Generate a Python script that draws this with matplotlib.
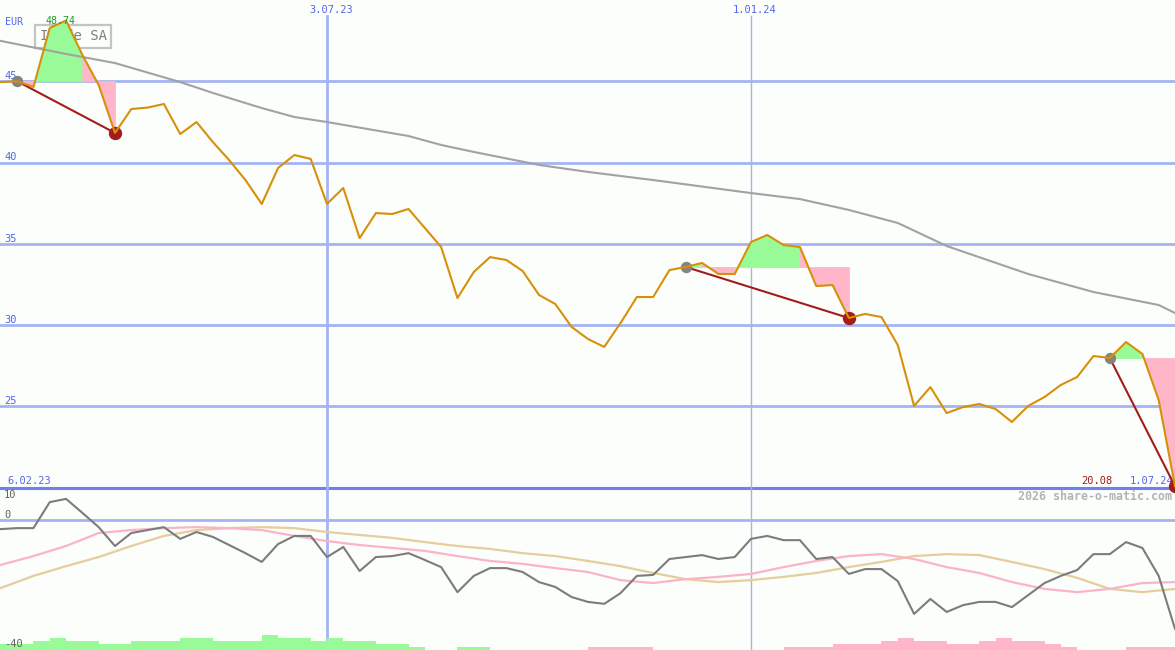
import matplotlib
matplotlib.use('Agg')
import matplotlib.pyplot as plt
import matplotlib.dates as mdates
import pandas as pd

plt.rcParams['font.family'] = ['DejaVu Sans Mono']

# -------------------------------------------------------------------------------
# weekly data, Mondays from 6.02.23 to 1.07.24

dates = pd.date_range('2023-02-06', periods=74, freq='7D')

price = [44.95, 44.95, 45.00, 44.65, 48.28, 48.74, 46.62, 44.77, 41.82, 43.29,
         43.38, 43.60, 41.75, 42.49, 41.26, 40.15, 38.92, 37.45, 39.66, 40.46,
         40.22, 37.45, 38.43, 35.35, 36.89, 36.83, 37.14, 35.97, 34.80, 31.66,
         33.26, 34.18, 34.00, 33.32, 31.85, 31.29, 29.88, 29.14, 28.65, 30.12,
         31.72, 31.72, 33.38, 33.57, 33.82, 33.14, 33.14, 35.11, 35.54, 34.92,
         34.80, 32.40, 32.46, 30.43, 30.68, 30.49, 28.77, 25.02, 26.18, 24.58,
         24.95, 25.14, 24.83, 24.03, 25.02, 25.57, 26.31, 26.80, 28.09, 27.97,
         28.95, 28.22, 25.38, 20.08]

# long moving average (read at some weeks only)
ma_weeks = [0, 1, 5, 8, 12, 14, 17, 19, 21, 26, 28, 30, 34, 37, 41, 47, 50, 53,
            56, 59, 64, 68, 72, 73]
ma_vals = [47.72, 47.48, 46.68, 46.12, 44.95, 44.28, 43.35, 42.80, 42.49, 41.63,
           41.08, 40.65, 39.85, 39.42, 38.92, 38.12, 37.75, 37.08, 36.28, 34.86,
           33.14, 32.03, 31.23, 30.74]

# signals: buy (grey) / sell (red) week index
entries = [2, 43, 69]
exits = [8, 53, 73]

# lower panel oscillator
osc = [-2.8, -2.8, -2.5, -2.5, 5.5, 6.5, 2.2, -2.2, -8.0, -4.0,
       -3.1, -2.2, -5.8, -3.7, -5.2, -7.7, -10.2, -12.9, -7.4, -4.9,
       -4.9, -11.4, -8.3, -15.7, -11.4, -11.1, -10.2, -12.3, -14.5, -22.2,
       -17.2, -14.8, -14.8, -16.0, -19.1, -20.6, -23.7, -25.2, -25.8, -22.5,
       -17.2, -16.9, -12.0, -11.4, -10.8, -12.0, -11.4, -5.8, -4.9, -6.2,
       -6.2, -12.0, -11.4, -16.6, -15.1, -15.1, -18.8, -28.9, -24.3, -28.3,
       -26.2, -25.2, -25.2, -26.8, -23.1, -19.4, -17.2, -15.4, -10.5, -10.5,
       -6.8, -8.6, -17.2, -33.5]

smooth_weeks = [0] + list(range(1, 74, 2))
osc_fast = [-15.1, -13.8, -11.1, -8.0, -4.0, -3.1, -2.5, -2.2, -2.5, -3.1,
            -4.9, -6.5, -7.7, -8.6, -9.5, -11.1, -12.6, -13.5, -14.8, -16.0,
            -18.5, -19.4, -18.2, -17.5, -16.6, -14.5, -12.6, -11.1, -10.5, -12.0,
            -14.5, -16.3, -19.1, -21.2, -22.2, -21.2, -19.4, -19.1]
osc_slow = [-22.8, -20.9, -17.2, -14.2, -11.4, -8.0, -4.9, -3.1, -2.5, -2.2,
            -2.5, -3.7, -4.6, -5.5, -6.8, -8.0, -8.9, -10.2, -11.1, -12.6,
            -14.2, -16.3, -18.2, -19.1, -18.5, -17.5, -16.3, -14.5, -12.9, -11.1,
            -10.5, -10.8, -12.9, -15.1, -17.8, -21.2, -22.2, -21.2]

# weekly histogram level (week k -> k+1), + green / - pink
hist = [2, 2, 2, 3, 4, 3, 3, 2, 2, 3, 3, 3, 4, 4, 3, 3, 3, 5, 4, 4,
        3, 4, 3, 3, 2, 2, 1, 0, 0, 1, 1, 0, 0, 0, 0, 0, 0, -1, -1, -1,
        -1, 0, 0, 0, 0, 0, 0, 0, 0, -1, -1, -1, -2, -2, -2, -3, -4, -3, -3, -2,
        -2, -3, -4, -3, -3, -2, -1, 0, 0, 0, -1, -1, -1]

marked_dates = ['2023-07-03', '2024-01-01']
name = 'Icade SA'

# -------------------------------------------------------------------------------

BG = '#fbfefb'
GRID = '#a4b4f2'
BLUE = '#5266ee'
ORANGE = '#d8900a'
GREEN = '#98fb98'
PINK = '#ffb6c8'
DARKRED = '#a31c1c'


def fmt(d):
    return '{}.{:02d}.{:%y}'.format(d.day, d.month, d)


xd = mdates.date2num(dates)

fig = plt.figure(figsize=(11.75, 6.5), dpi=100, facecolor=BG)
ax = fig.add_axes([0, 0.25, 1, 0.75])
ax2 = fig.add_axes([0, 0, 1, 0.25])
for a in (ax, ax2):
    a.set_xlim(xd[0] + 6.64, xd[-1])
    a.axis('off')
ax.set_ylim(20, 50)
ax2.set_ylim(-40, 10)

## main panel grid
for v in [25, 30, 35, 40, 45]:
    ax.axhline(v, color=GRID, lw=2, zorder=1)
    ax.annotate(str(v), (0, v), xycoords=ax.get_yaxis_transform(),
                xytext=(4, 0), textcoords='offset pixels',
                fontsize=7.5, color=BLUE, va='bottom')
ax.axhline(20, color='#7080ee', lw=2.2, zorder=1, clip_on=False)

for i, d in enumerate(marked_dates):
    xv = mdates.date2num(pd.Timestamp(d))
    lw = 2 if i == 0 else 1
    col = GRID if i == 0 else '#aab2e4'
    ax.axvline(xv, ymax=1 - 16 / 487.5, color=col, lw=lw, zorder=1)
    ax2.axvline(xv, color=col, lw=lw, zorder=1)
    ax.annotate(fmt(pd.Timestamp(d)), (xv, 1), xycoords=ax.get_xaxis_transform(),
                xytext=(-18, -13), textcoords='offset pixels',
                fontsize=7.5, color=BLUE, ha='left', va='baseline')

ax.text(5 / 1175, 1 - 25 / 487.5, 'EUR', transform=ax.transAxes,
        fontsize=7.2, color=BLUE, va='baseline')

# name box (sits behind the fills)
ax.text(73 / 1175, 1 - 36.5 / 487.5, name, transform=ax.transAxes,
        fontsize=10, color='#808080', ha='center', va='center', zorder=2,
        bbox=dict(boxstyle='square,pad=0.3', fc=BG, ec='#c4c4c4', lw=1.6))

## moving average
ax.plot(xd[ma_weeks], ma_vals, color='#a2a2a2', lw=1.5, zorder=4)

## trade fills: colour of each week by close vs entry level
for e, x_ in zip(entries, exits):
    level = price[e]
    for k in range(e + 1, x_ + 1):
        col = GREEN if price[k] > level else PINK
        ax.fill_between(xd[k - 1:k + 1], price[k - 1:k + 1], level,
                        color=col, lw=0.6, zorder=3)
    ax.plot([xd[e], xd[x_]], [price[e], price[x_]], color=DARKRED, lw=1.5,
            zorder=4.5)
    ax.plot(xd[e], price[e], 'o', color='#838383', ms=7.2, zorder=5)
    ax.plot(xd[x_], price[x_], 'o', color=DARKRED, ms=8.6, zorder=5, clip_on=False)

ax.plot(xd, price, color=ORANGE, lw=1.5, zorder=6)

# max and last values
imax = price.index(max(price))
ax.annotate('{:.2f}'.format(price[imax]), (xd[imax], price[imax]),
            xytext=(-6, -4), textcoords='offset pixels', fontsize=7.2,
            color='#229922', ha='center', va='baseline', zorder=7)
ax.annotate(fmt(dates[0]), (0, 20), xycoords=ax.get_yaxis_transform(),
            xytext=(7, 1), textcoords='offset pixels', fontsize=7.5,
            color=BLUE, va='bottom')
ax.annotate(fmt(dates[-1]), (1, 20), xycoords=ax.get_yaxis_transform(),
            xytext=(-2, 1), textcoords='offset pixels', fontsize=7.5,
            color=BLUE, ha='right', va='bottom')
ax.annotate('{:.2f}'.format(price[-1]), (1, 20), xycoords=ax.get_yaxis_transform(),
            xytext=(-62, 1), textcoords='offset pixels', fontsize=7.5,
            color='#a01c1c', ha='right', va='bottom')

## lower panel
ax2.axhline(0, color=GRID, lw=2, zorder=1)
for k, h in enumerate(hist):
    if h != 0:
        ax2.bar(xd[k], abs(h) * 0.92, bottom=-40, width=xd[k + 1] - xd[k],
                align='edge', color=GREEN if h > 0 else PINK, lw=0, zorder=2)

ax2.plot(xd[smooth_weeks], osc_slow, color='#e6cd9c', lw=1.6, zorder=3)
ax2.plot(xd[smooth_weeks], osc_fast, color='#fbb3c8', lw=1.6, zorder=3)
ax2.plot(xd, osc, color='#7c7c7c', lw=1.5, zorder=4)

lab = dict(xycoords=ax2.get_yaxis_transform(), textcoords='offset pixels',
           fontsize=7.5, color='#606060')
ax2.annotate('10', (0, 10), xytext=(4, -2), va='top', **lab)
ax2.annotate('0', (0, 0), xytext=(4, 0), va='bottom', **lab)
ax2.annotate('-40', (0, -40), xytext=(4, 1), va='bottom', **lab)

ax2.text(1 - 3 / 1175, (650 - 500) / 162.5, '2026 share-o-matic.com',
         transform=ax2.transAxes, fontsize=8.4, fontweight='bold',
         color='#b4b4b4', ha='right', va='baseline', zorder=5)

fig.savefig('out.png', dpi=100, facecolor=BG)
